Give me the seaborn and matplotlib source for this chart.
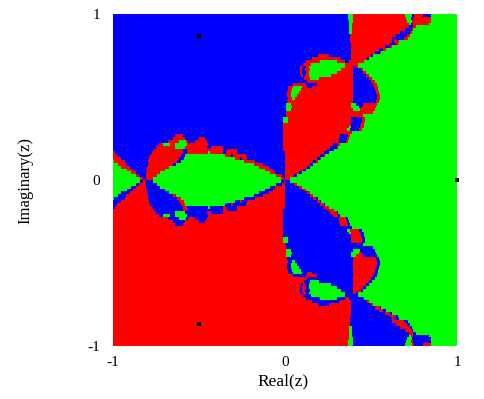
import numpy as np
import matplotlib
matplotlib.use("Agg")
import matplotlib.pyplot as plt
from matplotlib.colors import ListedColormap
import seaborn as sns

# Basin, row by row from the top: each token is a colour
# and the column where that colour ends.
basin_rows = [
    "B235 G240 R292 G299 B301 R310 B318 G344",
    "B235 G240 R293 G298 B300 R318 G344",
    "B236 G240 R294 G299 R318 G344",
    "B236 G239 R296 G298 B300 R316 G344",
    "B236 G239 R296 B300 R303 G344",
    "B236 G239 R292 B299 R300 G344",
    "B236 G239 R287 B297 R299 G344",
    "B237 R283 B294 R297 G344",
    "B237 R279 B291 R295 G344",
    "B237 R279 B281 R286 G344",
    "B238 R277 B283 R285 G344",
    "B238 R272 B277 R279 G344",
    "B238 R266 B270 R273 G344",
    "B238 R262 B267 R268 G344",
    "B205 R216 B238 R258 B260 G344",
    "B199 R227 B238 R254 B256 G344",
    "B193 R207 G224 R232 B236 R251 G344",
    "B190 R198 G232 R245 G344",
    "B187 R190 B193 R196 G232 R240 B243 R245 G344",
    "B187 R189 B192 R197 G228 R240 B248 R250 G344",
    "B187 R189 B193 R196 G224 R240 B250 R253 G344",
    "B188 R190 B192 R196 G218 R240 B253 R256 G344",
    "B191 R197 G206 R240 B256 R259 G344",
    "B194 R240 B258 R262 G344",
    "B180 R193 B204 R240 B260 R264 G344",
    "B175 R180 G189 R194 B199 R240 B261 R265 G344",
    "B175 R179 G188 R240 B262 R265 G344",
    "B174 R178 G186 R240 B263 R266 G344",
    "B174 R178 G184 R240 B264 R267 G344",
    "B175 R179 G182 R240 B264 R267 G344",
    "B174 R240 B263 R266 G344",
    "B173 G178 R238 G243 B250 R264 G344",
    "B173 G179 R238 G246 B249 R263 G344",
    "B173 G178 R240 G247 R262 G344",
    "B173 R260 G344",
    "B173 R250 G344",
    "B170 G175 R238 B249 R252 G344",
    "B170 G175 R238 B249 R252 G344",
    "B170 R238 B248 R251 G344",
    "B170 R236 G238 B247 R251 G344",
    "B170 R234 G237 B246 R249 G344",
    "B170 R239 G344",
    "B62 R70 B170 R227 B235 R237 G344",
    "B60 R72 B86 R92 B170 R226 B234 R236 G344",
    "B55 R66 G73 R75 B82 R94 B170 R226 B233 R235 G344",
    "B46 R50 G57 R62 G74 R95 B170 R220 B225 R227 G344",
    "B43 R62 G72 R94 B98 R110 B170 R217 B224 R225 G344",
    "B41 R70 B74 R110 B114 R124 B170 R214 B221 G344",
    "R2 B39 R70 B74 R95 G97 R110 B113 R124 B172 R211 B216 G344",
    "R4 B37 R68 B72 G112 R118 B120 R133 B172 R207 B211 R212 G344",
    "R8 B36 R66 B71 G122 R127 B129 R134 B172 R204 B207 R208 G344",
    "G1 R12 B35 R64 B68 G131 R142 B172 R200 B203 R205 G344",
    "G5 R13 B35 R60 B63 G141 R150 B172 R197 B200 G344",
    "G8 R17 B34 R56 G146 R156 B172 R194 B197 G344",
    "G14 R20 B34 R52 G152 R160 B172 R190 B193 G344",
    "G18 R23 B33 R47 G157 R162 B172 R186 B189 G344",
    "G23 R26 B33 R44 G163 R169 B172 R181 B184 G344",
    "G27 R30 B33 R40 G168 R171 B172 R177 G344",
    "G27 B30 R33 B40 G168 B171 R172 B177 G344",
    "G23 B26 R33 B44 G163 B169 R172 B181 R184 G344",
    "G18 B23 R33 B47 G157 B162 R172 B186 R189 G344",
    "G14 B20 R34 B52 G152 B160 R172 B190 R193 G344",
    "G8 B17 R34 B56 G146 B156 R172 B194 R197 G344",
    "G5 B13 R35 B60 R63 G141 B150 R172 B197 R200 G344",
    "G1 B12 R35 B64 R68 G131 B142 R172 B200 R203 B205 G344",
    "B8 R36 B66 R71 G122 B127 R129 B134 R172 B204 R207 B208 G344",
    "B4 R37 B68 R72 G112 B118 R120 B133 R172 B207 R211 B212 G344",
    "B2 R39 B70 R74 B95 G97 B110 R113 B124 R172 B211 R216 G344",
    "R41 B70 R74 B110 R114 B124 R170 B214 R221 G344",
    "R43 B62 G72 B94 R98 B110 R170 B217 R224 B225 G344",
    "R46 B50 G57 B62 G74 B95 R170 B220 R225 B227 G344",
    "R55 B66 G73 B75 R82 B94 R170 B226 R233 B235 G344",
    "R60 B72 R86 B92 R170 B226 R234 B236 G344",
    "R62 B70 R170 B227 R235 B237 G344",
    "R170 B239 G344",
    "R170 B234 G237 R246 B249 G344",
    "R170 B236 G238 R247 B251 G344",
    "R170 B238 R248 B251 G344",
    "R170 G175 B238 R249 B252 G344",
    "R170 G175 B238 R249 B252 G344",
    "R173 B250 G344",
    "R173 B260 G344",
    "R173 G178 B240 G247 B262 G344",
    "R173 G179 B238 G246 R249 B263 G344",
    "R173 G178 B238 G243 R250 B264 G344",
    "R174 B240 R263 B266 G344",
    "R175 B179 G182 B240 R264 B267 G344",
    "R174 B178 G184 B240 R264 B267 G344",
    "R174 B178 G186 B240 R263 B266 G344",
    "R175 B179 G188 B240 R262 B265 G344",
    "R175 B180 G189 B194 R199 B240 R261 B265 G344",
    "R180 B193 R204 B240 R260 B264 G344",
    "R194 B240 R258 B262 G344",
    "R191 B197 G206 B240 R256 B259 G344",
    "R188 B190 R192 B196 G218 B240 R253 B256 G344",
    "R187 B189 R193 B196 G224 B240 R250 B253 G344",
    "R187 B189 R192 B197 G228 B240 R248 B250 G344",
    "R187 B190 R193 B196 G232 B240 R243 B245 G344",
    "R190 B198 G232 B245 G344",
    "R193 B207 G224 B232 R236 B251 G344",
    "R199 B227 R238 B254 R256 G344",
    "R205 B216 R238 B258 R260 G344",
    "R238 B262 R267 B268 G344",
    "R238 B266 R270 B273 G344",
    "R238 B272 R277 B279 G344",
    "R238 B277 R283 B285 G344",
    "R237 B279 R281 B286 G344",
    "R237 B279 R291 B295 G344",
    "R237 B283 R294 B297 G344",
    "R236 G239 B287 R297 B299 G344",
    "R236 G239 B292 R299 B300 G344",
    "R236 G239 B296 R300 B303 G344",
    "R236 G239 B296 G298 R300 B316 G344",
    "R236 G240 B294 G299 B318 G344",
    "R235 G240 B293 G298 R300 B318 G344",
    "R235 G240 B292 G299 R301 B310 R318 G344",
]
basin_codes = {"B": 0, "G": 1, "R": 2}
basin_colors = ["#0000ff", "#00ff00", "#ff0000"]
root_re = [1.0, -0.5, -0.5]
root_im = [0.0, 0.866, -0.866]
tick_values = [-1, 0, 1]
tick_labels = ["-1", "0", "1"]
x_label = "Real(z)"
y_label = "Imaginary(z)"


def decode(row):
    cells, start = [], 0
    for token in row.split():
        end = int(token[1:])
        cells += [basin_codes[token[0]]] * (end - start)
        start = end
    return cells


grid = np.array([decode(r) for r in basin_rows])
nrows, ncols = grid.shape

sns.set_theme(style="white")
plt.rcParams["font.family"] = ["Liberation Serif", "DejaVu Serif"]

W, H = 485, 399
fig = plt.figure(figsize=(W / 100, H / 100), dpi=100, facecolor="white")
ax = fig.add_axes([113 / W, (H - 346) / H, 344 / W, 332 / H])
sns.heatmap(grid, ax=ax, cmap=ListedColormap(basin_colors), vmin=0, vmax=2,
            cbar=False, xticklabels=False, yticklabels=False, square=False)


def to_x(re):
    return (np.asarray(re) + 1) / 2 * ncols


def to_y(im):
    return (1 - np.asarray(im)) / 2 * nrows


ax.scatter(to_x(root_re), to_y(root_im), marker="s", s=5, c="black",
           linewidths=0, clip_on=False, zorder=5)

ax.set_xticks(to_x(tick_values))
ax.set_xticklabels(tick_labels, fontsize=11, rotation=0, color="black")
ax.set_yticks(to_y(tick_values))
ax.set_yticklabels(tick_labels, fontsize=11, rotation=0, color="black")
ax.tick_params(axis="both", length=0)
ax.tick_params(axis="x", pad=7.5)
ax.tick_params(axis="y", pad=9.5)
for side in ax.spines.values():
    side.set_visible(False)

fig.text(283 / W, 1 - 381 / H, x_label, ha="center", va="center", fontsize=12.5, color="black")
fig.text(25 / W, 1 - 180 / H, y_label, ha="center", va="center", rotation=90, fontsize=12, color="black")

fig.savefig("out.png", dpi=100)
